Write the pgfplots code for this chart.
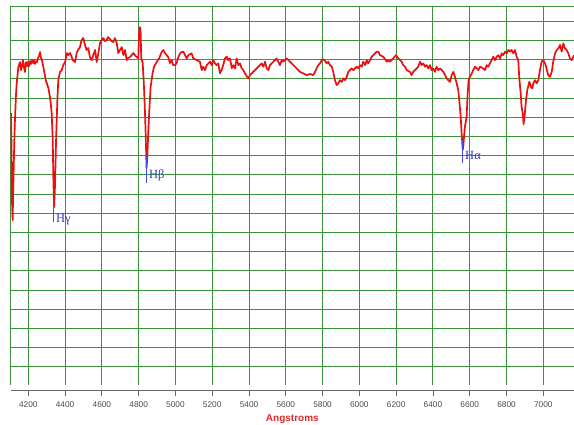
\documentclass[border=0pt]{standalone}
\usepackage{pgfplots}
\pgfplotsset{compat=1.18}
\usepackage{pgfplotstable}
\usepackage{fontspec}
\setmainfont{Liberation Sans}
\newfontfamily\serifg{Liberation Serif}
\definecolor{gridgreen}{RGB}{62,148,62}
\definecolor{specred}{RGB}{235,15,15}
\definecolor{lineblue}{RGB}{70,70,225}
\definecolor{textblue}{RGB}{55,55,205}
\definecolor{labelred}{RGB}{225,40,40}
\definecolor{tickgray}{RGB}{75,75,75}
\definecolor{axisgray}{RGB}{105,105,105}

\pgfplotstableread{
lambda flux
4106 13.21
4109 11.29
4111 8.68
4115 7.64
4118 9.20
4124 11.81
4128 13.01
4133 14.15
4137 14.78
4146 15.61
4155 15.87
4160 15.45
4166 15.66
4171 15.97
4177 15.56
4182 15.35
4187 15.87
4193 15.66
4198 15.87
4204 15.66
4209 15.92
4215 15.77
4220 15.97
4226 15.82
4231 15.97
4236 15.77
4242 15.92
4247 15.87
4253 16.08
4258 16.18
4264 16.39
4269 16.08
4274 15.97
4282 15.61
4295 14.93
4302 14.72
4309 14.52
4318 14.05
4323 13.63
4327 13.21
4333 11.81
4336 9.88
4340 8.32
4345 9.36
4351 11.81
4358 13.89
4363 14.93
4372 15.35
4382 15.45
4390 15.71
4400 15.87
4409 16.34
4416 16.23
4427 16.34
4436 16.13
4443 15.97
4454 15.87
4463 16.34
4470 16.50
4481 16.65
4490 17.02
4499 17.12
4508 16.76
4517 16.50
4526 16.60
4535 16.13
4545 15.97
4553 16.23
4563 16.50
4572 15.87
4581 16.34
4590 16.86
4599 17.02
4608 17.12
4617 16.96
4626 17.02
4633 17.17
4644 17.07
4653 16.96
4662 16.91
4671 17.12
4681 16.86
4689 16.34
4699 16.50
4708 16.65
4717 16.23
4726 16.50
4735 15.97
4742 16.08
4753 16.13
4762 16.23
4771 16.34
4780 16.23
4789 16.13
4798 16.08
4803 17.54
4807 17.69
4811 17.38
4814 16.08
4822 15.82
4829 14.57
4834 13.37
4838 12.17
4843 10.35
4847 10.90
4852 12.17
4858 13.37
4865 14.57
4876 15.30
4883 15.61
4898 15.87
4912 16.08
4925 16.39
4934 16.50
4943 16.34
4952 16.23
4961 16.13
4970 15.82
4980 15.97
4988 15.71
4998 15.71
5007 15.82
5014 16.08
5025 16.32
5034 16.39
5043 16.41
5061 16.06
5070 16.23
5088 16.32
5097 16.06
5116 15.97
5133 15.89
5143 15.45
5151 15.63
5161 15.45
5170 15.71
5188 15.89
5197 15.71
5206 15.97
5215 15.80
5224 15.71
5233 15.80
5242 15.28
5251 15.45
5260 15.71
5269 16.06
5279 16.15
5287 15.97
5297 16.06
5306 15.54
5315 15.71
5324 15.54
5333 16.06
5342 15.71
5351 15.80
5360 15.54
5369 15.45
5378 15.28
5387 15.14
5396 15.02
5405 15.19
5415 15.28
5423 15.36
5442 15.54
5460 15.71
5469 15.80
5478 15.63
5487 15.89
5496 15.54
5505 15.45
5514 15.71
5523 15.80
5532 15.89
5541 15.97
5550 16.06
5559 15.89
5568 15.71
5578 15.97
5586 15.89
5596 15.97
5605 16.06
5614 15.97
5623 15.89
5641 15.71
5659 15.54
5677 15.36
5695 15.28
5714 15.19
5732 15.25
5749 15.19
5759 15.36
5768 15.54
5777 15.71
5786 15.80
5795 15.97
5804 16.01
5813 15.94
5822 15.80
5831 15.89
5840 15.71
5850 15.63
5858 15.36
5867 14.93
5877 14.67
5885 14.76
5895 14.93
5904 14.84
5913 15.02
5922 14.93
5931 15.10
5940 15.36
5949 15.45
5958 15.54
5967 15.45
5976 15.54
5985 15.63
5994 15.54
6003 15.71
6013 15.63
6021 15.89
6031 15.71
6040 15.97
6048 15.80
6058 15.97
6067 16.15
6076 16.23
6085 16.32
6094 16.41
6103 16.41
6112 16.23
6130 16.15
6149 15.89
6157 15.97
6166 15.89
6184 16.06
6199 16.23
6212 16.06
6230 15.89
6239 15.71
6248 15.63
6257 15.45
6275 15.36
6284 15.19
6293 15.36
6312 15.54
6320 15.63
6330 15.89
6339 15.71
6348 15.80
6357 15.63
6366 15.71
6375 15.54
6384 15.71
6393 15.45
6402 15.54
6411 15.36
6420 15.63
6429 15.45
6438 15.54
6448 15.45
6456 15.36
6466 15.19
6475 15.02
6483 14.93
6493 14.84
6502 15.19
6511 15.36
6520 15.10
6529 14.76
6538 14.41
6543 13.89
6551 13.02
6556 12.16
6562 11.30
6565 11.45
6569 11.98
6574 12.50
6583 13.02
6589 14.24
6594 14.93
6601 15.10
6611 15.28
6619 15.45
6629 15.63
6638 15.54
6647 15.45
6656 15.63
6674 15.54
6683 15.45
6692 15.71
6701 15.63
6710 15.80
6719 15.97
6728 16.15
6737 15.97
6747 16.15
6755 16.23
6765 16.06
6774 16.32
6782 16.23
6792 16.41
6801 16.32
6810 16.50
6819 16.41
6828 16.50
6837 16.32
6846 16.50
6855 16.15
6864 15.97
6869 15.10
6877 14.24
6882 13.54
6888 13.20
6893 12.64
6899 13.11
6906 13.89
6913 14.41
6924 14.84
6933 14.58
6940 14.50
6946 14.76
6955 14.93
6964 14.76
6973 14.93
6982 15.45
6991 15.89
7000 15.97
7009 15.80
7015 15.63
7022 15.36
7027 15.19
7036 15.10
7046 15.36
7054 15.89
7064 16.32
7073 16.50
7082 16.58
7091 16.76
7100 16.41
7109 16.84
7118 16.58
7127 16.50
7136 16.32
7145 16.06
7154 15.97
7167 16.23
}\spectrum

\begin{document}
\begin{tikzpicture}[x=1pt,y=1pt]
\useasboundingbox (0,0) rectangle (574,425);
\begin{axis}[
  at={(10.7pt,40pt)}, anchor=south west,
  scale only axis, width=563.3pt, height=379pt,
  xmin=4104.3, xmax=7167, ymin=-0.95, ymax=18.79,
  axis x line*=bottom, axis y line*=left,
  axis x line shift=6pt,
  x axis line style={draw=axisgray, line width=1pt},
  y axis line style={draw=gridgreen, line width=0.9pt},
  xtick={4200,4400,...,7000},
  ytick={0,...,18},
  yticklabels={},
  ytick style={draw=none},
  extra y ticks={18.79}, extra y tick labels={},
  extra y tick style={grid=major},
  grid=major,
  major grid style={draw=gridgreen, line width=0.9pt},
  tick align=outside, major tick length=5pt,
  xtick style={draw=axisgray, line width=0.8pt},
  /pgf/number format/assume math mode=true,
  /pgf/number format/1000 sep={},
  xticklabel style={font=\fontsize{8.3}{9}\selectfont, text=tickgray, yshift=-2.5pt},
  xlabel={Angstroms},
  xlabel style={font=\fontsize{10}{12}\selectfont\bfseries, text=labelred, yshift=0.5pt},
  clip=true,
]
\addplot[specred, line width=1.7pt, line join=round] table[x=lambda, y=flux] {\spectrum};
\addplot[lineblue, line width=1pt] coordinates {(4338,8.84) (4338,7.54)}
  node[pos=0.92, anchor=west, inner sep=0pt, xshift=2pt, text=textblue, font=\serifg\fontsize{12.5}{13}\selectfont] {Hγ};
\addplot[lineblue, line width=1pt] coordinates {(4843,11.02) (4843,9.57)}
  node[pos=0.71, anchor=west, inner sep=0pt, xshift=2pt, text=textblue, font=\serifg\fontsize{12.5}{13}\selectfont] {Hβ};
\addplot[lineblue, line width=1pt] coordinates {(6562,11.81) (6562,10.61)}
  node[pos=0.65, anchor=west, inner sep=0pt, xshift=2pt, text=textblue, font=\serifg\fontsize{12.5}{13}\selectfont] {Hα};
\end{axis}
\end{tikzpicture}
\end{document}
